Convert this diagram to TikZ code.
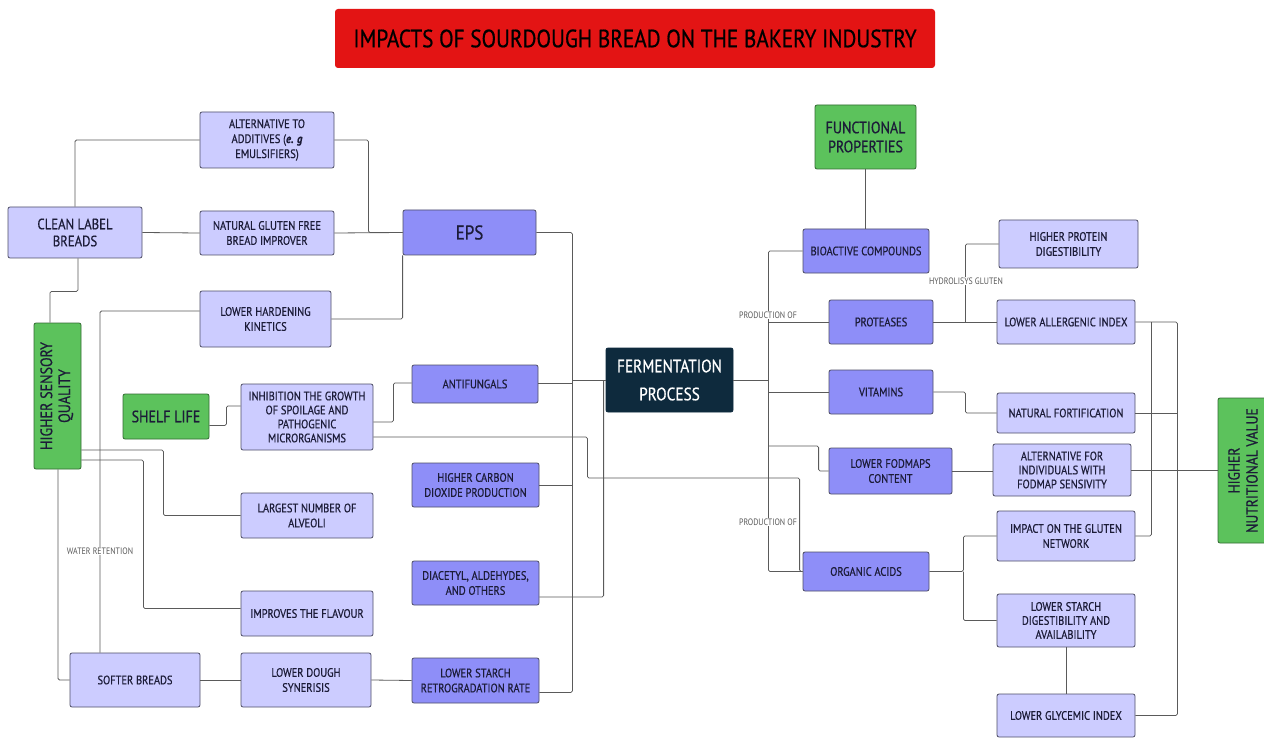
\documentclass[tikz,border=0pt]{standalone}
\usepackage{fontspec}
\setmainfont{PT Sans}[FakeStretch=0.85, FakeBold=0.6]
\newfontfamily\tagfont{PT Sans}[FakeStretch=0.85]
\definecolor{lav}{HTML}{CCCCFF}
\definecolor{purp}{HTML}{8E8EF8}
\definecolor{grn}{HTML}{5CC25C}
\definecolor{navy}{HTML}{0E2A3D}
\definecolor{titred}{HTML}{E31414}
\definecolor{edgec}{HTML}{4E4E66}
\definecolor{wirec}{HTML}{5A5A5A}
\definecolor{ink}{HTML}{1C1C38}
\newcommand\mybox[7]{\node[#6, minimum width={#4pt-#2pt}, minimum height={#5pt-#3pt}] (#1) at ({(#2+#4)/2},{(#3+#5)/2}) {#7};}
\tikzset{
 base/.style={draw=edgec, line width=0.8pt, rounded corners=2pt, inner sep=0pt, align=center, text=ink, font=\fontsize{12.3}{15}\selectfont},
 lbox/.style={base, fill=lav},
 pbox/.style={base, fill=purp},
 gbox/.style={base, fill=grn, draw=grn!55!black},
 navbox/.style={base, fill=navy, draw=navy, text=white, font=\fontsize{18}{28}\selectfont},
 tbox/.style={fill=titred, rounded corners=3pt, inner sep=0pt, text=black, font=\fontsize{25}{28}\selectfont},
 wire/.style={draw=wirec, line width=0.8pt, rounded corners=1.5pt},
 tag/.style={fill=white, inner sep=1pt, text=black!65, font=\tagfont\fontsize{9.3}{10}\selectfont},
}
\begin{document}
\begin{tikzpicture}[x=1pt,y=-1pt]
\fill[white] (0,0) rectangle (1264,738);
\useasboundingbox (0,0) rectangle (1264,738);
% ---------- boxes ----------
\mybox{title}{335}{9}{935}{68}{tbox}{IMPACTS OF SOURDOUGH BREAD ON THE BAKERY INDUSTRY}
\mybox{ALT}{200}{112}{334}{168}{lbox}{ALTERNATIVE TO\\ADDITIVES (\textbf{\textit{e. g}}\\EMULSIFIERS)}
\mybox{CLEAN}{8}{207}{142}{258}{lbox, font=\fontsize{15}{17}\selectfont}{CLEAN LABEL\\BREADS}
\mybox{NGF}{200}{211}{334}{255}{lbox}{NATURAL GLUTEN FREE\\BREAD IMPROVER}
\mybox{LHK}{200}{291}{331}{347}{lbox}{LOWER HARDENING\\KINETICS}
\mybox{EPS}{403}{210}{536}{255}{pbox, font=\fontsize{20}{22}\selectfont}{EPS}
\mybox{HSQ}{34}{323}{81}{469}{gbox, font=\fontsize{16.5}{18}\selectfont}{\rotatebox{90}{\begin{tabular}{@{}c@{}}HIGHER SENSORY\\QUALITY\end{tabular}}}
\mybox{SHELF}{123}{394}{209}{439}{gbox, font=\fontsize{16.5}{18}\selectfont}{SHELF LIFE}
\mybox{INHIB}{241}{384}{373}{450}{lbox, font=\fontsize{12.3}{14}\selectfont}{INHIBITION THE GROWTH\\OF SPOILAGE AND\\PATHOGENIC\\MICRORGANISMS}
\mybox{ALV}{241}{493}{373}{538}{lbox}{LARGEST NUMBER OF\\ALVEOLI}
\mybox{FLAV}{241}{591}{373}{636}{lbox}{IMPROVES THE FLAVOUR}
\mybox{SOFT}{70}{653}{200}{707}{lbox}{SOFTER BREADS}
\mybox{SYN}{241}{653}{371}{707}{lbox}{LOWER DOUGH\\SYNERISIS}
\mybox{ANTIF}{412}{365}{538}{403}{pbox}{ANTIFUNGALS}
\mybox{CO2}{412}{463}{539}{507}{pbox}{HIGHER CARBON\\DIOXIDE PRODUCTION}
\mybox{DIA}{412}{561}{539}{605}{pbox}{DIACETYL, ALDEHYDES,\\AND OTHERS}
\mybox{LSRR}{412}{658}{539}{703}{pbox}{LOWER STARCH\\RETROGRADATION RATE}
\mybox{FERM}{606}{348}{733}{412}{navbox}{FERMENTATION\\PROCESS}
\mybox{FUNC}{815}{105}{916}{169}{gbox, font=\fontsize{16.5}{19}\selectfont}{FUNCTIONAL\\PROPERTIES}
\mybox{BIO}{803}{229}{929}{273}{pbox}{BIOACTIVE COMPOUNDS}
\mybox{HPD}{999}{220}{1138}{268}{lbox}{HIGHER PROTEIN\\DIGESTIBILITY}
\mybox{PROT}{829}{300}{933}{344}{pbox}{PROTEASES}
\mybox{LAI}{997}{300}{1135}{344}{lbox}{LOWER ALLERGENIC INDEX}
\mybox{VIT}{829}{370}{933}{414}{pbox}{VITAMINS}
\mybox{NFORT}{997}{393}{1135}{433}{lbox}{NATURAL FORTIFICATION}
\mybox{FOD}{829}{448}{952}{494}{pbox}{LOWER FODMAPS\\CONTENT}
\mybox{AFOD}{993}{444}{1131}{496}{lbox, font=\fontsize{12.3}{14}\selectfont}{ALTERNATIVE FOR\\INDIVIDUALS WITH\\FODMAP SENSIVITY}
\mybox{OA}{803}{552}{929}{591}{pbox}{ORGANIC ACIDS}
\mybox{IGN}{997}{511}{1135}{561}{lbox}{IMPACT ON THE GLUTEN\\NETWORK}
\mybox{LSDA}{997}{594}{1135}{647}{lbox, font=\fontsize{12.3}{14}\selectfont}{LOWER STARCH\\DIGESTIBILITY AND\\AVAILABILITY}
\mybox{LGI}{997}{694}{1135}{737}{lbox}{LOWER GLYCEMIC INDEX}
\mybox{HNV}{1218}{398}{1272}{543}{gbox, font=\fontsize{16}{18}\selectfont}{\rotatebox{90}{\begin{tabular}{@{}c@{}}HIGHER\\NUTRITIONAL VALUE\end{tabular}}}
% ---------- helper coordinates ----------
\coordinate (tL) at ([xshift=36pt]EPS.east);
\coordinate (tR) at ([xshift=35pt]FERM.east);
\coordinate (rr) at ([xshift=42pt]LAI.east);
\coordinate (fq) at ([yshift=25pt]FOD.west);
\coordinate (oq) at ([xshift=34pt]OA.east);
% ---------- left connectors ----------
\draw[wire] (CLEAN.north) |- (ALT.west);
\draw[wire] (ALT.east) -- ++(34,0) |- (EPS.west);
\draw[wire] (CLEAN.east) -- (NGF.west);
\draw[wire] (NGF.east) -- (EPS.west);
\draw[wire] (LHK.east) -| (EPS.south west);
\draw[wire] ([xshift=3pt]CLEAN.south) -- ++(0,33) -| ([xshift=-7.5pt]HSQ.north);
\draw[wire] ([yshift=8pt]LHK.west) -| ([xshift=-35pt]SOFT.north);
\draw[wire] ([xshift=0.5pt]HSQ.south) |- (SOFT.west);
\draw[wire] ([yshift=-54pt]HSQ.east) -- ++(82,0) |- (ALV.west);
\draw[wire] ([yshift=-64pt]HSQ.east) -- ++(62,0) |- ([yshift=5pt]FLAV.west);
\draw[wire] ([yshift=-9pt]SHELF.east) -- ++(17,0) |- ([yshift=11pt]INHIB.west);
\draw[wire] (SOFT.east) -- (SYN.west);
\draw[wire] (SYN.east) -- (LSRR.west);
\draw[wire] ([yshift=-5pt]INHIB.east) -- ++(20,0) |- ([yshift=1pt]ANTIF.west);
\draw[wire] ([yshift=-20pt]INHIB.east) -- ++(214,0) -- ++(0,41) -| ([xshift=-3pt]OA.west) -- (OA.west);
% ---------- into fermentation ----------
\draw[wire] (EPS.east) -- (tL) |- ([yshift=-12pt]LSRR.east);
\draw[wire] ([yshift=1pt]ANTIF.east) -- ([yshift=1pt]ANTIF.east -| tL);
\draw[wire] (CO2.east) -- (CO2.east -| tL);
\draw[wire] ([yshift=-14pt]DIA.east) -| ([xshift=-2pt]FERM.west);
\draw[wire] (FERM.west -| tL) -- (FERM.west);
% ---------- right connectors ----------
\draw[wire] (FERM.east) -- (tR);
\draw[wire] (BIO.west) -- (BIO.west -| tR) -- (OA.west -| tR) -- (OA.west);
\draw[wire] (PROT.west -| tR) -- (PROT.west);
\draw[wire] (VIT.west -| tR) -- (VIT.west);
\draw[wire] (fq -| tR) -| ([xshift=-10pt]FOD.west) -- (FOD.west);
\draw[wire] (FUNC.south) -- (FUNC.south |- BIO.north);
\draw[wire] (PROT.east) -- (LAI.west);
\draw[wire] ([xshift=32pt]PROT.east) |- (HPD.west);
\draw[wire] (VIT.east) -- ++(32,0) |- (NFORT.west);
\draw[wire] (FOD.east) -- (FOD.east -| AFOD.west);
\draw[wire] (OA.east) -- (oq) |- (IGN.west);
\draw[wire] (oq) |- (LSDA.west);
\draw[wire] (LSDA.south) -- (LGI.north);
\draw[wire] (LAI.east) -- (rr) |- (LGI.east);
\draw[wire] ([xshift=16pt]LAI.east) |- (IGN.east);
\draw[wire] (NFORT.east) -- (NFORT.east -| rr);
\draw[wire] (AFOD.east) -- (AFOD.east -| HNV.west);
% ---------- labels ----------
\node[tag] (wr) at (100,551) {WATER RETENTION};
\node[tag] (po1) at (768,315) {PRODUCTION OF};
\node[tag] (po2) at (768,522) {PRODUCTION OF};
\node[tag] (hg) at (966,281) {HYDROLISYS GLUTEN};
\end{tikzpicture}
\end{document}
